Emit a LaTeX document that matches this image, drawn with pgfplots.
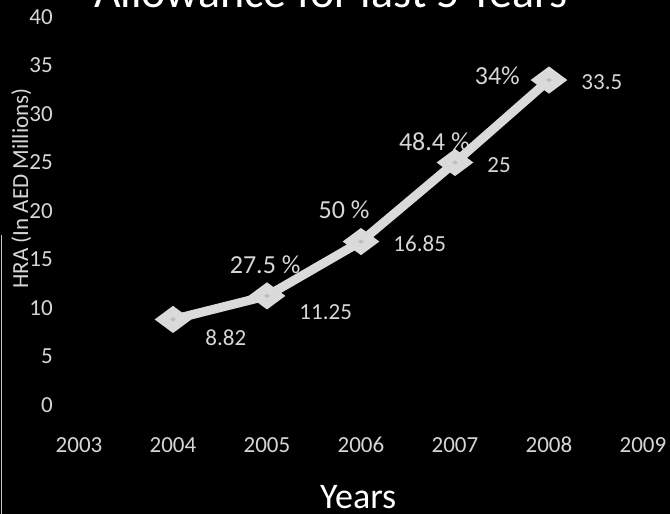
\documentclass[border=0pt]{standalone}
\usepackage{fontspec}
\setmainfont{Carlito}
\usepackage{pgfplots}
\pgfplotsset{compat=1.18}
\definecolor{txt}{HTML}{D6D6D6}
\definecolor{linec}{HTML}{DADADA}
\definecolor{markc}{HTML}{BEBEBE}

\pgfplotstableread{
year  hra    dy
2004  8.82   -18
2005  11.25  -16
2006  16.85  -2
2007  25     -3
2008  33.5   -2
}\hratable

\begin{document}
\begin{tikzpicture}[x=1pt,y=1pt]
\useasboundingbox (0pt,0pt) rectangle (670pt,514pt);
\fill[black] (0pt,0pt) rectangle (670pt,514pt);
\clip (0pt,0pt) rectangle (670pt,514pt);
\draw[gray!45, line width=0.8pt] (1pt,0pt) -- (1pt,279pt);
\node[anchor=base, text=white, font=\fontsize{46}{50}\selectfont] at (331pt,506pt) {Allowance for last 5 Years};
\begin{axis}[
  at={(79pt,109pt)}, anchor=south west,
  scale only axis, width=564pt, height=388pt,
  xmin=2003, xmax=2009, ymin=0, ymax=40,
  xtick={2003,2004,...,2009}, ytick={0,5,...,40},
  axis line style={draw=none}, major tick length=0pt,
  /pgf/number format/assume math mode=true,
  tick label style={text=txt, font=\fontsize{23}{26}\selectfont, inner sep=0pt},
  xticklabel style={anchor=north, yshift=-32pt, /pgf/number format/1000 sep={}},
  yticklabel style={anchor=east, xshift=-26pt},
  xlabel={Years},
  xlabel style={at={(axis description cs:0.495,-0.2655)}, anchor=base, inner sep=0pt,
    text=white, font=\fontsize{36}{40}\selectfont},
  ylabel={HRA (In AED Millions)},
  ylabel style={at={(axis description cs:-0.0904,0.558)}, anchor=base, inner sep=0pt,
    text=txt, font=\fontsize{23}{26}\selectfont},
  clip=false,
]
\addplot[linec, line width=9pt, mark=diamond*, mark size=8pt,
  mark options={xscale=1.8, fill=markc, draw=none},
  nodes near coords, point meta=explicit,
  visualization depends on={\thisrow{dy} \as \labeldy},
  every node near coord/.append style={anchor=west, xshift=28pt, yshift=\labeldy pt,
    text=txt, font=\fontsize{23}{26}\selectfont, inner sep=0pt}]
  table[x=year, y=hra, meta=hra] {\hratable};
% year-on-year growth annotations
\begin{scope}[every node/.style={text=txt, font=\fontsize{26}{30}\selectfont, inner sep=0pt}]
\node at (axis cs:2004.98,14.5) {27.5 \%};
\node at (axis cs:2005.82,20.1) {50 \%};
\node at (axis cs:2006.78,27.1) {48.4 \%};
\node at (axis cs:2007.45,33.9) {34\%};
\end{scope}
\end{axis}
\end{tikzpicture}
\end{document}
